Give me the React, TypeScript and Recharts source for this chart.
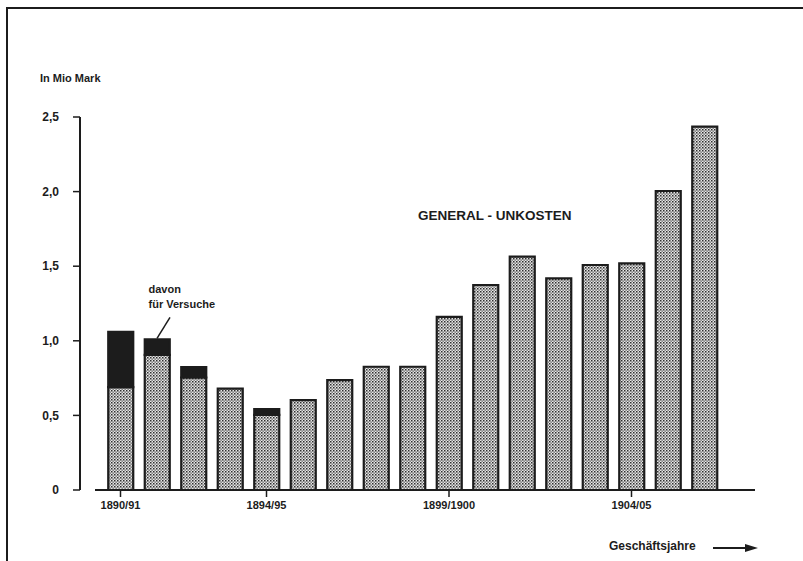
import { Bar, BarChart, ReferenceDot, ReferenceLine, XAxis, YAxis } from "recharts";

const categories = [
  "1890/91", "1891/92", "1892/93", "1893/94", "1894/95", "1895/96", "1896/97", "1897/98", "1898/99",
  "1899/1900", "1900/01", "1901/02", "1902/03", "1903/04", "1904/05", "1905/06", "1906/07",
];
// Generalunkosten gesamt, Mio Mark
const totalCosts = [1.06, 1.01, 0.824, 0.68, 0.543, 0.603, 0.737, 0.826, 0.826, 1.16, 1.374, 1.564, 1.419, 1.508, 1.519, 2.004, 2.435];
// davon für Versuche
const testCosts = [0.37, 0.105, 0.07, 0, 0.04, 0, 0, 0, 0, 0, 0, 0, 0, 0, 0, 0, 0];
const yTicks = [0, 0.5, 1, 1.5, 2, 2.5];
const xTicks = ["1890/91", "1894/95", "1899/1900", "1904/05"];

const data = categories.map((year, i) => ({
  year,
  base: +(totalCosts[i] - testCosts[i]).toFixed(3),
  tests: testCosts[i],
}));

const INK = "#1c1c1c";
const FONT = "'Liberation Sans', Arial, Helvetica, sans-serif";

const fmt = (v: number) => (v === 0 ? "0" : v.toFixed(1).replace(".", ","));

function AxisBaseline(props: any) {
  const left = Math.min(props.x1, props.x2);
  const right = Math.max(props.x1, props.x2);
  return <line x1={left + 15} x2={right} y1={props.y1} y2={props.y2} stroke={INK} strokeWidth={2} />;
}

function VersucheNote(props: any) {
  const { cx, cy } = props;
  return (
    <g>
      <line x1={cx} y1={cy - 1} x2={cx + 13} y2={cy - 22} stroke={INK} strokeWidth={1.5} />
      <text x={cx - 8.5} y={cy - 46} fontFamily={FONT} fontWeight="bold" fontSize={11} fill={INK}>
        davon
      </text>
      <text x={cx - 8.5} y={cy - 31} fontFamily={FONT} fontWeight="bold" fontSize={11} fill={INK}>
        für Versuche
      </text>
    </g>
  );
}

export default function App() {
  return (
    <div style={{ position: "absolute", left: 0, top: 0, width: 803, height: 561, background: "#fff", fontFamily: FONT }}>
      <div
        style={{
          position: "absolute",
          left: 6,
          top: 7,
          width: 797,
          height: 554,
          borderTop: `2px solid ${INK}`,
          borderLeft: `2px solid ${INK}`,
          boxSizing: "border-box",
        }}
      />
      <BarChart
        width={803}
        height={561}
        data={data}
        margin={{ top: 117, right: 48, bottom: 41, left: 20 }}
        style={{ position: "absolute", left: 0, top: 0 }}
      >
        <defs>
          <pattern id="stipple" width="3" height="3" patternUnits="userSpaceOnUse">
            <rect width="3" height="3" fill="#e6e6e6" />
            <rect x="0" y="0" width="1.5" height="1.5" fill="#2e2e2e" />
            <rect x="1.5" y="1.5" width="1.3" height="1.3" fill="#555" />
          </pattern>
        </defs>
        <XAxis
          dataKey="year"
          ticks={xTicks}
          interval={0}
          padding={{ left: 22.25, right: 32.25 }}
          axisLine={false}
          tickSize={7}
          tickMargin={4}
          tickLine={{ stroke: INK, strokeWidth: 1.5 }}
          tick={{ fill: INK, fontSize: 11, fontWeight: "bold", fontFamily: FONT }}
          height={30}
        />
        <YAxis
          domain={[0, 2.5]}
          ticks={yTicks}
          tickFormatter={fmt}
          width={60}
          tickSize={7}
          tickMargin={14}
          axisLine={{ stroke: INK, strokeWidth: 2 }}
          tickLine={{ stroke: INK, strokeWidth: 1.5 }}
          tick={{ fill: INK, fontSize: 12, fontWeight: "bold", fontFamily: FONT }}
        />
        <Bar dataKey="base" stackId="a" barSize={25} fill="url(#stipple)" stroke={INK} strokeWidth={2.2} isAnimationActive={false} />
        <Bar dataKey="tests" stackId="a" barSize={25} fill={INK} stroke={INK} strokeWidth={2.2} isAnimationActive={false} />
        <ReferenceLine y={0} shape={AxisBaseline} />
        <ReferenceDot x={categories[1]} y={totalCosts[1]} ifOverflow="visible" shape={VersucheNote} />
      </BarChart>
      <div style={{ position: "absolute", left: 40, top: 72, fontSize: 11, fontWeight: "bold", color: INK }}>In Mio Mark</div>
      <div style={{ position: "absolute", left: 418, top: 208, fontSize: 13.5, fontWeight: "bold", color: INK }}>
        GENERAL - UNKOSTEN
      </div>
      <div style={{ position: "absolute", left: 609, top: 539, fontSize: 12, fontWeight: "bold", color: INK }}>
        Geschäftsjahre
      </div>
      <svg style={{ position: "absolute", left: 700, top: 538 }} width={70} height={20}>
        <line x1={13} y1={10} x2={48} y2={10} stroke={INK} strokeWidth={2} />
        <polygon points="45,6 58,10 45,14" fill={INK} />
      </svg>
    </div>
  );
}
